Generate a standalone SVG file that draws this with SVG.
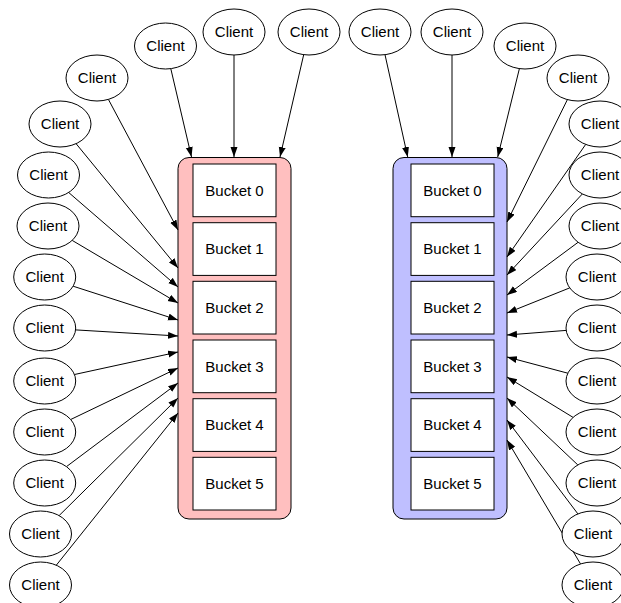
<svg xmlns="http://www.w3.org/2000/svg" width="621" height="603" viewBox="0 0 621 603">
<style>
.cl ellipse{fill:#fff;stroke:#000;stroke-width:1}
text{font-family:"Liberation Sans",Arial,sans-serif;font-size:15px;fill:#000;text-anchor:middle}
.bk rect{fill:#fff;stroke:#000;stroke-width:1}
.edges line{stroke:#000;stroke-width:1;marker-end:url(#ah)}
</style>
<defs>
<marker id="ah" markerUnits="userSpaceOnUse" markerWidth="11" markerHeight="8" refX="10" refY="3.5" orient="auto">
<path d="M0,0 L10,3.5 L0,7 Z" fill="#000"/>
</marker>
</defs>
<g id="container-left"><rect x="178" y="157.5" width="113" height="361.5" rx="11" fill="#FFBFBF" stroke="#000"/></g>
<g id="container-right"><rect x="393" y="157.5" width="114" height="361.5" rx="11" fill="#BFBFFF" stroke="#000"/></g>
<g id="left-bucket-0" class="bk"><rect x="193" y="164" width="83" height="52.7"/><text x="234.5" y="195.5">Bucket 0</text></g>
<g id="left-bucket-1" class="bk"><rect x="193" y="222.7" width="83" height="52.7"/><text x="234.5" y="254.2">Bucket 1</text></g>
<g id="left-bucket-2" class="bk"><rect x="193" y="281.3" width="83" height="52.7"/><text x="234.5" y="312.8">Bucket 2</text></g>
<g id="left-bucket-3" class="bk"><rect x="193" y="340" width="83" height="52.7"/><text x="234.5" y="371.5">Bucket 3</text></g>
<g id="left-bucket-4" class="bk"><rect x="193" y="398.7" width="83" height="52.7"/><text x="234.5" y="430.2">Bucket 4</text></g>
<g id="left-bucket-5" class="bk"><rect x="193" y="457.3" width="83" height="52.7"/><text x="234.5" y="488.8">Bucket 5</text></g>
<g id="right-bucket-0" class="bk"><rect x="411" y="164" width="83" height="52.7"/><text x="452.5" y="195.5">Bucket 0</text></g>
<g id="right-bucket-1" class="bk"><rect x="411" y="222.7" width="83" height="52.7"/><text x="452.5" y="254.2">Bucket 1</text></g>
<g id="right-bucket-2" class="bk"><rect x="411" y="281.3" width="83" height="52.7"/><text x="452.5" y="312.8">Bucket 2</text></g>
<g id="right-bucket-3" class="bk"><rect x="411" y="340" width="83" height="52.7"/><text x="452.5" y="371.5">Bucket 3</text></g>
<g id="right-bucket-4" class="bk"><rect x="411" y="398.7" width="83" height="52.7"/><text x="452.5" y="430.2">Bucket 4</text></g>
<g id="right-bucket-5" class="bk"><rect x="411" y="457.3" width="83" height="52.7"/><text x="452.5" y="488.8">Bucket 5</text></g>
<g id="edges" class="edges">
<line x1="170.8" y1="68.7" x2="191.5" y2="157"/>
<line x1="234" y1="55" x2="234" y2="157"/>
<line x1="303.7" y1="54.7" x2="280" y2="157"/>
<line x1="108.4" y1="99.4" x2="178" y2="230"/>
<line x1="76.1" y1="143.7" x2="178" y2="268"/>
<line x1="68.7" y1="192.5" x2="178" y2="287"/>
<line x1="72.2" y1="240.4" x2="178" y2="303"/>
<line x1="73.1" y1="286.2" x2="178" y2="320"/>
<line x1="75.6" y1="329.9" x2="178" y2="336"/>
<line x1="74.5" y1="374.5" x2="178" y2="352"/>
<line x1="70.7" y1="419.5" x2="178" y2="368"/>
<line x1="66.5" y1="466.6" x2="178" y2="383"/>
<line x1="59.1" y1="515.6" x2="178" y2="398"/>
<line x1="56.3" y1="565.2" x2="178" y2="413"/>
<line x1="385" y1="54.7" x2="407.7" y2="157"/>
<line x1="452" y1="55" x2="452" y2="157"/>
<line x1="519.4" y1="68.6" x2="497.7" y2="157"/>
<line x1="567.4" y1="99.6" x2="507" y2="222"/>
<line x1="585.7" y1="144.4" x2="507" y2="257"/>
<line x1="582.4" y1="193.9" x2="507" y2="275"/>
<line x1="578.1" y1="242.3" x2="507" y2="295"/>
<line x1="569.7" y1="287.9" x2="507" y2="313"/>
<line x1="566.2" y1="330.4" x2="507" y2="335"/>
<line x1="567.8" y1="373.2" x2="507" y2="357"/>
<line x1="573.1" y1="417.4" x2="507" y2="377"/>
<line x1="577.8" y1="464.9" x2="507" y2="398"/>
<line x1="577.9" y1="513.9" x2="507" y2="420"/>
<line x1="580.5" y1="563.9" x2="507" y2="440"/>
</g>
<g id="client-l1" class="cl"><ellipse cx="165.5" cy="46" rx="31" ry="23"/><text x="165.5" y="51">Client</text></g>
<g id="client-l2" class="cl"><ellipse cx="234" cy="32" rx="31" ry="23"/><text x="234" y="37">Client</text></g>
<g id="client-l3" class="cl"><ellipse cx="309" cy="32" rx="31" ry="23"/><text x="309" y="37">Client</text></g>
<g id="client-l4" class="cl"><ellipse cx="97" cy="78" rx="31" ry="23"/><text x="97" y="83">Client</text></g>
<g id="client-l5" class="cl"><ellipse cx="60" cy="124" rx="31" ry="23"/><text x="60" y="129">Client</text></g>
<g id="client-l6" class="cl"><ellipse cx="48.5" cy="175" rx="31" ry="23"/><text x="48.5" y="180">Client</text></g>
<g id="client-l7" class="cl"><ellipse cx="48" cy="226" rx="31" ry="23"/><text x="48" y="231">Client</text></g>
<g id="client-l8" class="cl"><ellipse cx="44.7" cy="277" rx="31" ry="23"/><text x="44.7" y="282">Client</text></g>
<g id="client-l9" class="cl"><ellipse cx="44.7" cy="328" rx="31" ry="23"/><text x="44.7" y="333">Client</text></g>
<g id="client-l10" class="cl"><ellipse cx="44.7" cy="381" rx="31" ry="23"/><text x="44.7" y="386">Client</text></g>
<g id="client-l11" class="cl"><ellipse cx="44.7" cy="432" rx="31" ry="23"/><text x="44.7" y="437">Client</text></g>
<g id="client-l12" class="cl"><ellipse cx="44.7" cy="483" rx="31" ry="23"/><text x="44.7" y="488">Client</text></g>
<g id="client-l13" class="cl"><ellipse cx="40.5" cy="534" rx="31" ry="23"/><text x="40.5" y="539">Client</text></g>
<g id="client-l14" class="cl"><ellipse cx="40.5" cy="585" rx="31" ry="23"/><text x="40.5" y="590">Client</text></g>
<g id="client-r1" class="cl"><ellipse cx="380" cy="32" rx="31" ry="23"/><text x="380" y="37">Client</text></g>
<g id="client-r2" class="cl"><ellipse cx="452" cy="32" rx="31" ry="23"/><text x="452" y="37">Client</text></g>
<g id="client-r3" class="cl"><ellipse cx="525" cy="46" rx="31" ry="23"/><text x="525" y="51">Client</text></g>
<g id="client-r4" class="cl"><ellipse cx="578" cy="78" rx="31" ry="23"/><text x="578" y="83">Client</text></g>
<g id="client-r5" class="cl"><ellipse cx="600" cy="124" rx="31" ry="23"/><text x="600" y="129">Client</text></g>
<g id="client-r6" class="cl"><ellipse cx="600" cy="175" rx="31" ry="23"/><text x="600" y="180">Client</text></g>
<g id="client-r7" class="cl"><ellipse cx="600" cy="226" rx="31" ry="23"/><text x="600" y="231">Client</text></g>
<g id="client-r8" class="cl"><ellipse cx="597" cy="277" rx="31" ry="23"/><text x="597" y="282">Client</text></g>
<g id="client-r9" class="cl"><ellipse cx="597" cy="328" rx="31" ry="23"/><text x="597" y="333">Client</text></g>
<g id="client-r10" class="cl"><ellipse cx="597" cy="381" rx="31" ry="23"/><text x="597" y="386">Client</text></g>
<g id="client-r11" class="cl"><ellipse cx="597" cy="432" rx="31" ry="23"/><text x="597" y="437">Client</text></g>
<g id="client-r12" class="cl"><ellipse cx="597" cy="483" rx="31" ry="23"/><text x="597" y="488">Client</text></g>
<g id="client-r13" class="cl"><ellipse cx="593" cy="534" rx="31" ry="23"/><text x="593" y="539">Client</text></g>
<g id="client-r14" class="cl"><ellipse cx="593" cy="585" rx="31" ry="23"/><text x="593" y="590">Client</text></g>
</svg>
